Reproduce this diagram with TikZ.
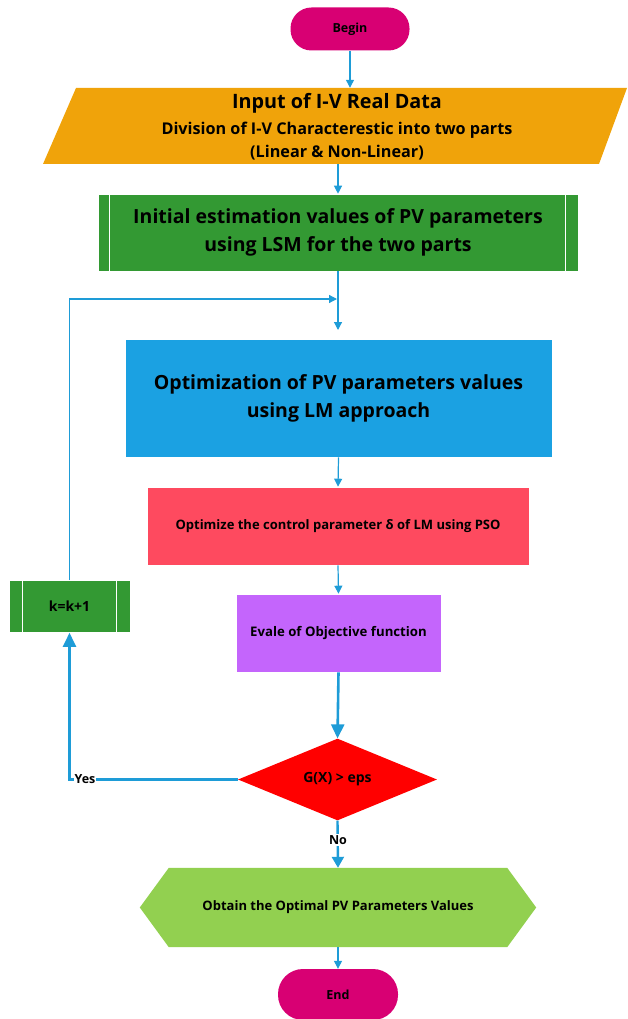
\documentclass[tikz,border=0pt]{standalone}
\usepackage{fontspec}
\setmainfont{Open Sans}
\usetikzlibrary{shapes.geometric,arrows.meta,calc}
\definecolor{pillc}{HTML}{D80073}
\definecolor{orangec}{HTML}{F0A30A}
\definecolor{greenc}{HTML}{339933}
\definecolor{bluec}{HTML}{1BA1E2}
\definecolor{redc}{HTML}{FE4A5F}
\definecolor{purplec}{HTML}{C465FC}
\definecolor{hexc}{HTML}{92D050}
\definecolor{linec}{HTML}{1E9CD7}
\begin{document}
\begin{tikzpicture}[x=1pt,y=-1pt,
  every node/.style={font=\bfseries},
  pill/.style={rectangle, rounded corners=21pt, fill=pillc, minimum width=119pt, minimum height=43pt, inner sep=0pt, font=\fontsize{12.5}{14}\selectfont\bfseries},
  box/.style={rectangle, draw=white, line width=0.6pt, inner sep=0pt, align=center},
  conn/.style={draw=linec, line width=1.2pt, -{Triangle[width=8pt,length=8pt]}},
  thickconn/.style={draw=linec, line width=2.6pt, -{Triangle[width=13pt,length=14pt]}},
  lbl/.style={fill=white, inner sep=1pt, font=\fontsize{12.5}{14}\selectfont\bfseries}]
\useasboundingbox (0,0) rectangle (628,1019);
% Begin
\node[pill] (begin) at (350,29) {Begin};
% Input parallelogram
\fill[orangec] (76,88) -- (627,88) -- (599,164) -- (43,164) -- cycle;
\node[inner sep=0pt, minimum width=500pt, minimum height=76pt, align=center] (input) at (337,126) {};
\node[font=\fontsize{19.8}{22}\selectfont\bfseries] (inputA) at (337,103) {Input of I-V Real Data};
\node[font=\fontsize{16.2}{18}\selectfont\bfseries] (inputB) at (337,130) {Division of I-V Characterestic into two parts};
\node[font=\fontsize{16.2}{18}\selectfont\bfseries] (inputC) at (337,153) {(Linear \& Non-Linear)};
% Initial estimation
\node[box, fill=greenc, minimum width=480pt, minimum height=77pt, font=\fontsize{19.5}{28}\selectfont\bfseries] (init) at (338,232.5) {Initial estimation values of PV parameters\\using LSM for the two parts};
\draw[white, line width=1pt] ([xshift=12pt]init.north west) -- ([xshift=12pt]init.south west);
\draw[white, line width=1pt] ([xshift=-13pt]init.north east) -- ([xshift=-13pt]init.south east);
% Optimization LM
\node[box, fill=bluec, minimum width=427pt, minimum height=118pt, font=\fontsize{19.5}{28}\selectfont\bfseries] (opt) at (338.5,398) {Optimization of PV parameters values\\using LM approach};
% PSO
\node[box, fill=redc, minimum width=382pt, minimum height=78pt, font=\fontsize{13}{15}\selectfont\bfseries] (pso) at (338,526) {Optimize the control parameter δ of LM using PSO};
% Objective
\node[box, fill=purplec, minimum width=205pt, minimum height=78pt, font=\fontsize{13.2}{15}\selectfont\bfseries] (obj) at (338.5,633) {Evale of Objective function};
% Decision
\node[diamond, fill=red, minimum width=199pt, minimum height=77pt, inner sep=0pt, font=\fontsize{14}{16}\selectfont\bfseries] (dec) at (337.5,779.5) {G(X) > eps};
% k box
\node[box, fill=greenc, minimum width=121pt, minimum height=52pt, font=\fontsize{14}{16}\selectfont\bfseries] (kbox) at (69.5,606.5) {k=k+1};
\draw[white, line width=1pt] ([xshift=13.5pt]kbox.north west) -- ([xshift=13.5pt]kbox.south west);
\draw[white, line width=1pt] ([xshift=-14pt]kbox.north east) -- ([xshift=-14pt]kbox.south east);
% Hexagon
\node[inner sep=0pt, minimum width=396pt, minimum height=79pt] (hex) at (338,907.5) {};
\fill[hexc] (hex.west) -- ($(hex.north west)+(29,0)$) -- ($(hex.north east)+(-29,0)$) -- (hex.east) -- ($(hex.south east)+(-29,0)$) -- ($(hex.south west)+(29,0)$) -- cycle;
\node[font=\fontsize{13}{15}\selectfont\bfseries] (hexT) at (hex.center) {Obtain the Optimal PV Parameters Values};
% End
\node[pill, minimum width=120pt, minimum height=51pt, rounded corners=25pt] (endn) at (338,994.5) {End};
% Connectors
\draw[conn] (begin.south) -- (begin.south |- input.north);
\draw[conn] (init.north |- input.south) -- (init.north);
\coordinate (optIn) at (338,330);
\coordinate (loopEnd) at (337,299);
\draw[conn] (init.south) -- (optIn);
\draw[conn] (kbox.north) |- (loopEnd);
\draw[conn] (opt.south) -- (pso.north);
\draw[conn] (pso.south) -- (obj.north);
\draw[thickconn] (obj.south) -- (dec.north);
\draw[thickconn] (dec.west) -| (kbox.south);
\draw[draw=linec, line width=2.4pt, -{Triangle[width=12pt,length=11pt]}] (dec.south) -- (hex.north);
\draw[conn] (hex.south) -- (endn.north);
\node[lbl] (yes) at (85,779) {Yes};
\node[lbl] (no) at (338,840) {No};
\end{tikzpicture}
\end{document}
